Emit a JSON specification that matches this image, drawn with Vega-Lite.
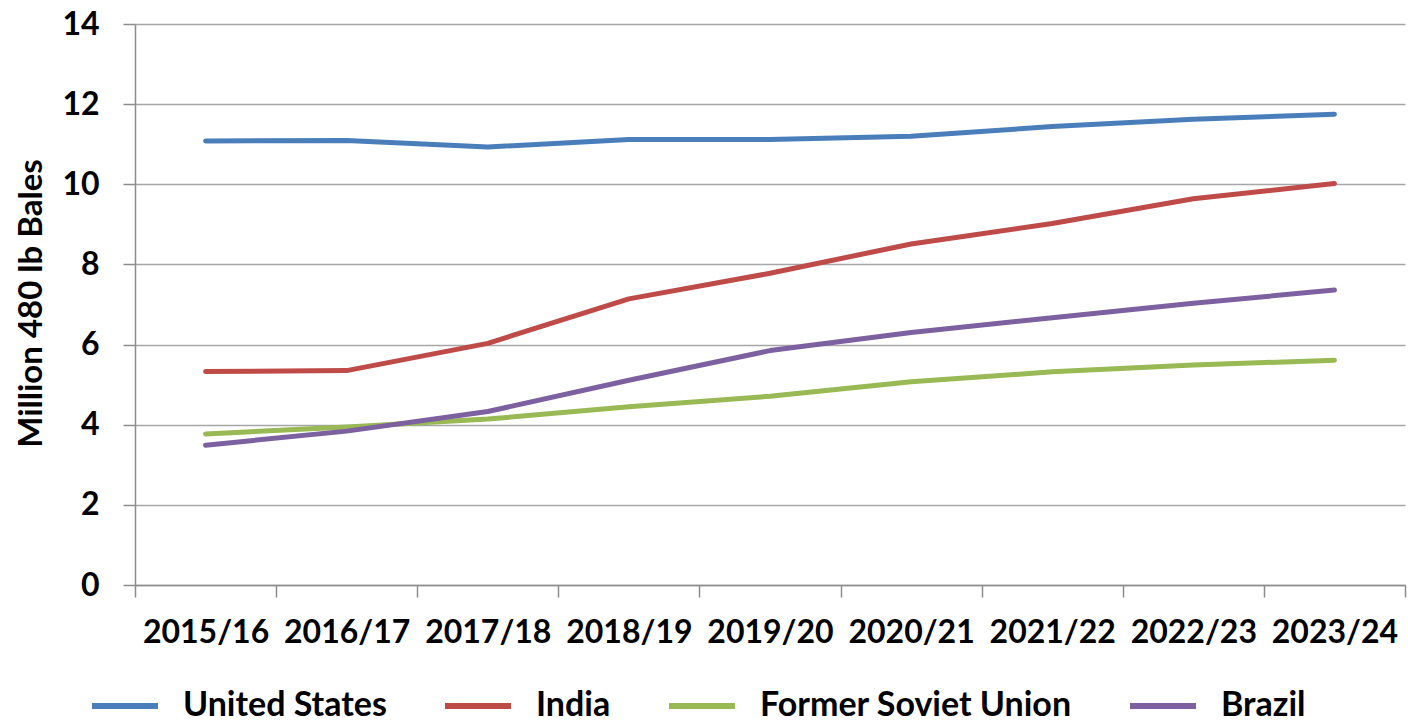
{
  "$schema": "https://vega.github.io/schema/vega-lite/v6.json",
  "autosize": {"type": "none"},
  "width": 1270,
  "height": 561,
  "padding": {"left": 135, "top": 24, "right": 3, "bottom": 138},
  "background": "white",
  "config": {
    "view": {"stroke": null},
    "font": "Lato"
  },
  "data": {
    "values": [
      {"year": "2015/16", "country": "United States", "value": 11.08},
      {"year": "2016/17", "country": "United States", "value": 11.09},
      {"year": "2017/18", "country": "United States", "value": 10.93},
      {"year": "2018/19", "country": "United States", "value": 11.12},
      {"year": "2019/20", "country": "United States", "value": 11.12},
      {"year": "2020/21", "country": "United States", "value": 11.2},
      {"year": "2021/22", "country": "United States", "value": 11.44},
      {"year": "2022/23", "country": "United States", "value": 11.62},
      {"year": "2023/24", "country": "United States", "value": 11.75},
      {"year": "2015/16", "country": "India", "value": 5.33},
      {"year": "2016/17", "country": "India", "value": 5.35},
      {"year": "2017/18", "country": "India", "value": 6.03},
      {"year": "2018/19", "country": "India", "value": 7.14},
      {"year": "2019/20", "country": "India", "value": 7.78},
      {"year": "2020/21", "country": "India", "value": 8.51},
      {"year": "2021/22", "country": "India", "value": 9.02},
      {"year": "2022/23", "country": "India", "value": 9.64},
      {"year": "2023/24", "country": "India", "value": 10.02},
      {"year": "2015/16", "country": "Former Soviet Union", "value": 3.77},
      {"year": "2016/17", "country": "Former Soviet Union", "value": 3.94},
      {"year": "2017/18", "country": "Former Soviet Union", "value": 4.14},
      {"year": "2018/19", "country": "Former Soviet Union", "value": 4.45},
      {"year": "2019/20", "country": "Former Soviet Union", "value": 4.71},
      {"year": "2020/21", "country": "Former Soviet Union", "value": 5.07},
      {"year": "2021/22", "country": "Former Soviet Union", "value": 5.32},
      {"year": "2022/23", "country": "Former Soviet Union", "value": 5.49},
      {"year": "2023/24", "country": "Former Soviet Union", "value": 5.61},
      {"year": "2015/16", "country": "Brazil", "value": 3.49},
      {"year": "2016/17", "country": "Brazil", "value": 3.84},
      {"year": "2017/18", "country": "Brazil", "value": 4.33},
      {"year": "2018/19", "country": "Brazil", "value": 5.11},
      {"year": "2019/20", "country": "Brazil", "value": 5.85},
      {"year": "2020/21", "country": "Brazil", "value": 6.3},
      {"year": "2021/22", "country": "Brazil", "value": 6.67},
      {"year": "2022/23", "country": "Brazil", "value": 7.03},
      {"year": "2023/24", "country": "Brazil", "value": 7.36}
    ]
  },
  "mark": {"type": "line", "strokeWidth": 5, "strokeCap": "round", "strokeJoin": "round"},
  "encoding": {
    "x": {
      "field": "year",
      "type": "ordinal",
      "bandPosition": 0.5,
      "scale": {"type": "band", "paddingInner": 0, "paddingOuter": 0},
      "axis": {
        "title": null,
        "labelAngle": 0,
        "labelFont": "Lato",
        "labelFontWeight": "bold",
        "labelFontSize": 32,
        "labelColor": "#000000",
        "labelPadding": 20,
        "tickBand": "extent",
        "tickSize": 12,
        "tickColor": "#8c8c8c",
        "tickWidth": 1.5,
        "domainColor": "#8c8c8c",
        "domainWidth": 1.5,
        "grid": false
      }
    },
    "y": {
      "field": "value",
      "type": "quantitative",
      "scale": {"domain": [0, 14], "nice": false, "zero": true},
      "axis": {
        "title": "Million 480 lb Bales",
        "titleFont": "Lato",
        "titleFontWeight": "bold",
        "titleFontSize": 33,
        "titleColor": "#000000",
        "titleAngle": 270,
        "titleAlign": "center",
        "titleBaseline": "middle",
        "titleAnchor": "middle",
        "titleX": -104,
        "titleY": 279,
        "values": [0, 2, 4, 6, 8, 10, 12, 14],
        "labelFont": "Lato",
        "labelFontWeight": "bold",
        "labelFontSize": 32,
        "labelColor": "#000000",
        "labelPadding": 24,
        "tickSize": 12,
        "tickColor": "#8c8c8c",
        "tickWidth": 1.5,
        "domainColor": "#8c8c8c",
        "domainWidth": 1.5,
        "grid": true,
        "gridColor": "#a6a6a6",
        "gridWidth": 1.5
      }
    },
    "color": {
      "field": "country",
      "type": "nominal",
      "scale": {
        "domain": ["United States", "India", "Former Soviet Union", "Brazil"],
        "range": ["#4a7ebb", "#be4b48", "#98b954", "#7d60a0"]
      },
      "legend": {
        "title": null,
        "orient": "none",
        "direction": "horizontal",
        "legendX": -46,
        "legendY": 646,
        "symbolType": "stroke",
        "symbolSize": 4356,
        "symbolStrokeWidth": 6,
        "labelFont": "Lato",
        "labelFontWeight": "bold",
        "labelFontSize": 34,
        "labelColor": "#000000",
        "labelOffset": 22,
        "labelLimit": 400,
        "columnPadding": 46
      }
    }
  }
}
